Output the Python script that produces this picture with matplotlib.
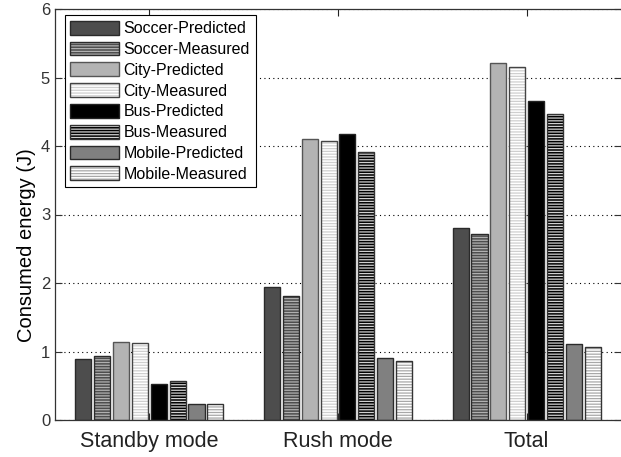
import matplotlib
matplotlib.use("Agg")
import matplotlib.pyplot as plt
import numpy as np
from matplotlib.patches import Patch
from matplotlib.legend_handler import HandlerTuple

plt.rcParams['font.family'] = ['Liberation Sans', 'DejaVu Sans']
plt.rcParams['hatch.linewidth'] = 0.9

categories = ["Standby mode", "Rush mode", "Total"]
series_names = ["Soccer-Predicted", "Soccer-Measured", "City-Predicted", "City-Measured",
                "Bus-Predicted", "Bus-Measured", "Mobile-Predicted", "Mobile-Measured"]
soccer_pred = [0.89, 1.94, 2.80]
soccer_meas = [0.93, 1.81, 2.72]
city_pred = [1.14, 4.10, 5.21]
city_meas = [1.12, 4.07, 5.15]
bus_pred = [0.53, 4.17, 4.66]
bus_meas = [0.57, 3.91, 4.46]
mobile_pred = [0.24, 0.90, 1.11]
mobile_meas = [0.24, 0.86, 1.07]
yticks = [0, 1, 2, 3, 4, 5, 6]

series = [soccer_pred, soccer_meas, city_pred, city_meas,
          bus_pred, bus_meas, mobile_pred, mobile_meas]
faces = ['#4d4d4d', '#4d4d4d', '#b3b3b3', '#ffffff', '#000000', '#000000', '#808080', '#ffffff']
stripes = [None, '#b0b0b0', None, '#cfcfcf', None, '#d0d0d0', None, '#a8a8a8']
edges = ['#2a2a2a', '#2a2a2a', '#555555', '#444444', '#222222', '#333333', '#2a2a2a', '#333333']

fig = plt.figure(figsize=(6.21, 4.57), dpi=100)
ax = fig.add_axes([55/621, 37/457, 566/621, 411/457])

x = np.arange(1, len(categories) + 1)
n = len(series)
slot = 0.1
bw = 0.085
handles = []
for i, (vals, fc, sc, ec) in enumerate(zip(series, faces, stripes, edges)):
    pos = x + (i - (n - 1) / 2) * slot
    if sc is not None:
        ax.bar(pos, vals, bw, color=fc, edgecolor=sc, hatch='------', linewidth=0, zorder=2)
        ax.bar(pos, vals, bw, facecolor='none', edgecolor=ec, linewidth=1.0, zorder=3)
        h = (Patch(facecolor=fc, edgecolor=sc, hatch='------', linewidth=0),
             Patch(facecolor='none', edgecolor=ec, linewidth=1.0))
    else:
        ax.bar(pos, vals, bw, color=fc, edgecolor=ec, linewidth=1.0, zorder=2)
        h = Patch(facecolor=fc, edgecolor=ec, linewidth=1.0)
    handles.append(h)

ax.set_xlim(0.5, 3.5)
ax.set_ylim(0, 6)
ax.set_yticks(yticks)
ax.set_xticks(x)
ax.set_xticklabels(categories, fontsize=15.5)
ax.tick_params(axis='y', labelsize=12, colors='#333333')
ax.tick_params(axis='x', colors='#222222', pad=8)
ax.tick_params(direction='in', length=5, width=0.8, top=True, right=True)
ax.set_axisbelow(True)
ax.yaxis.grid(True, linestyle=(0, (1, 3.0)), linewidth=0.8, color='black')
for s in ax.spines.values():
    s.set_color('#333333')
    s.set_linewidth(0.9)
ax.spines['right'].set_visible(False)
ax.set_ylabel("Consumed energy (J)", fontsize=14.5)
ax.yaxis.set_label_coords(-0.033, 0.426)

leg = ax.legend(handles, series_names, loc='upper left', bbox_to_anchor=(0.017, 0.985),
                fontsize=11.5, handler_map={tuple: HandlerTuple(ndivide=1, pad=0)},
                handlelength=3.05, handleheight=0.95, handletextpad=0.3, labelspacing=0.34,
                borderpad=0.35, borderaxespad=0, fancybox=False, framealpha=1, edgecolor='black')
leg.get_frame().set_linewidth(0.8)

fig.savefig("out.png", dpi=100)
